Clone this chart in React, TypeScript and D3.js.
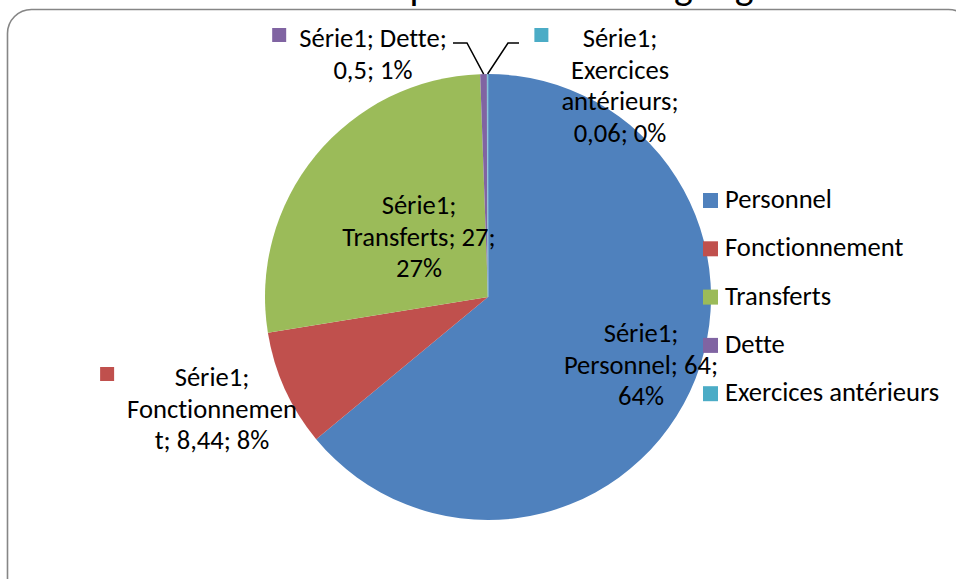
import React, { useEffect, useRef } from "react";
import * as d3 from "d3";

const seriesName = "Série1";
const categories = ["Personnel", "Fonctionnement", "Transferts", "Dette", "Exercices antérieurs"];
const values = [64, 8.44, 27, 0.5, 0.06];
const valueLabels = ["64", "8,44", "27", "0,5", "0,06"];
const percentLabels = ["64%", "8%", "27%", "1%", "0%"];
const colors = ["#4F81BD", "#C0504D", "#9BBB59", "#8064A2", "#4BACC6"];
const titleText = "Répartition du budget général";

// label line wrapping (as rendered in the reference)
const labelLines: string[][] = [
  [`${seriesName};`, `${categories[0]}; ${valueLabels[0]};`, percentLabels[0]],
  [`${seriesName};`, categories[1].slice(0, 13), `${categories[1].slice(13)}; ${valueLabels[1]}; ${percentLabels[1]}`],
  [`${seriesName};`, `${categories[2]}; ${valueLabels[2]};`, percentLabels[2]],
  [`${seriesName}; ${categories[3]};`, `${valueLabels[3]}; ${percentLabels[3]}`],
  [`${seriesName};`, categories[4].split(" ")[0], `${categories[4].split(" ")[1]};`, `${valueLabels[4]}; ${percentLabels[4]}`],
];
// layout of labels: center x, first baseline, has key
const labelPos = [
  { x: 641, y: 342, key: false },
  { x: 212, y: 386, key: true },
  { x: 419, y: 214, key: false },
  { x: 373, y: 47, key: true },
  { x: 620, y: 47, key: true },
];

const FONT = "Carlito, Calibri, Lato, sans-serif";
const FS = 26.6;
const LH = 31.5;
const TXT_STYLE = "font-variant-ligatures: none; font-feature-settings: 'liga' 0;";

export default function App() {
  const ref = useRef<SVGSVGElement>(null);
  useEffect(() => {
    const svg = d3.select(ref.current);
    svg.selectAll("*").remove();
    const W = 956, H = 579;
    const cx = 488, cy = 297, r = 223;

    svg.append("rect").attr("x", 0).attr("y", 0).attr("width", W).attr("height", H).attr("fill", "#fff");

    // title (cut off at the top in the reference: only descenders visible)
    svg.append("text").attr("x", 612).attr("y", -1).attr("text-anchor", "middle")
      .attr("font-family", FONT).attr("font-size", 40).attr("fill", "#000")
      .attr("style", TXT_STYLE).text(titleText);

    svg.append("rect").attr("x", 7.5).attr("y", 9.5).attr("width", 965).attr("height", 595)
      .attr("rx", 24).attr("fill", "none").attr("stroke", "#868686").attr("stroke-width", 1.6);

    const pie = d3.pie<number>().value(d => d).sort(null).startAngle(0).endAngle(2 * Math.PI);
    const arcs = pie(values);
    const arc = d3.arc<d3.PieArcDatum<number>>().innerRadius(0).outerRadius(r);
    const g = svg.append("g").attr("transform", `translate(${cx},${cy})`);
    g.selectAll("path").data(arcs).enter().append("path")
      .attr("d", d => arc(d) as string)
      .attr("fill", (_, i) => colors[i])
      .attr("stroke", (_, i) => (i === 4 ? "#9fd0e0" : "none"))
      .attr("stroke-width", 0.6);

    const edge = (i: number) => {
      const a = (arcs[i].startAngle + arcs[i].endAngle) / 2;
      return [cx + r * Math.sin(a), cy - r * Math.cos(a)] as [number, number];
    };
    const line = d3.line();
    svg.append("path").attr("d", line([[453, 43], [467, 43], edge(3)]) as string)
      .attr("fill", "none").attr("stroke", "#000").attr("stroke-width", 1.5);
    svg.append("path").attr("d", line([edge(4), [508, 43], [519, 43]]) as string)
      .attr("fill", "none").attr("stroke", "#000").attr("stroke-width", 1.5);

    // data labels
    labelLines.forEach((lines, i) => {
      const p = labelPos[i];
      const lg = svg.append("g");
      let maxW = 0;
      lines.forEach((t, j) => {
        const te = lg.append("text").attr("x", p.x).attr("y", p.y + j * LH)
          .attr("text-anchor", "middle").attr("font-family", FONT).attr("font-size", FS)
          .attr("fill", "#000").attr("style", TXT_STYLE).text(t);
        const w = (te.node() as SVGTextElement).getComputedTextLength();
        if (w > maxW) maxW = w;
      });
      if (p.key) {
        lg.append("rect").attr("x", p.x - maxW / 2 - 13 - 14).attr("y", p.y - 19)
          .attr("width", 14).attr("height", 14).attr("fill", colors[i]);
      }
    });

    // legend
    categories.forEach((c, i) => {
      const y = 193 + i * 48.3;
      svg.append("rect").attr("x", 703).attr("y", y).attr("width", 15).attr("height", 15).attr("fill", colors[i]);
      svg.append("text").attr("x", 725).attr("y", y + 15).attr("font-family", FONT)
        .attr("font-size", FS).attr("fill", "#000").attr("style", TXT_STYLE).text(c);
    });
  }, []);
  return <svg ref={ref} width={956} height={579} style={{ position: "absolute", left: 0, top: 0 }} />;
}
